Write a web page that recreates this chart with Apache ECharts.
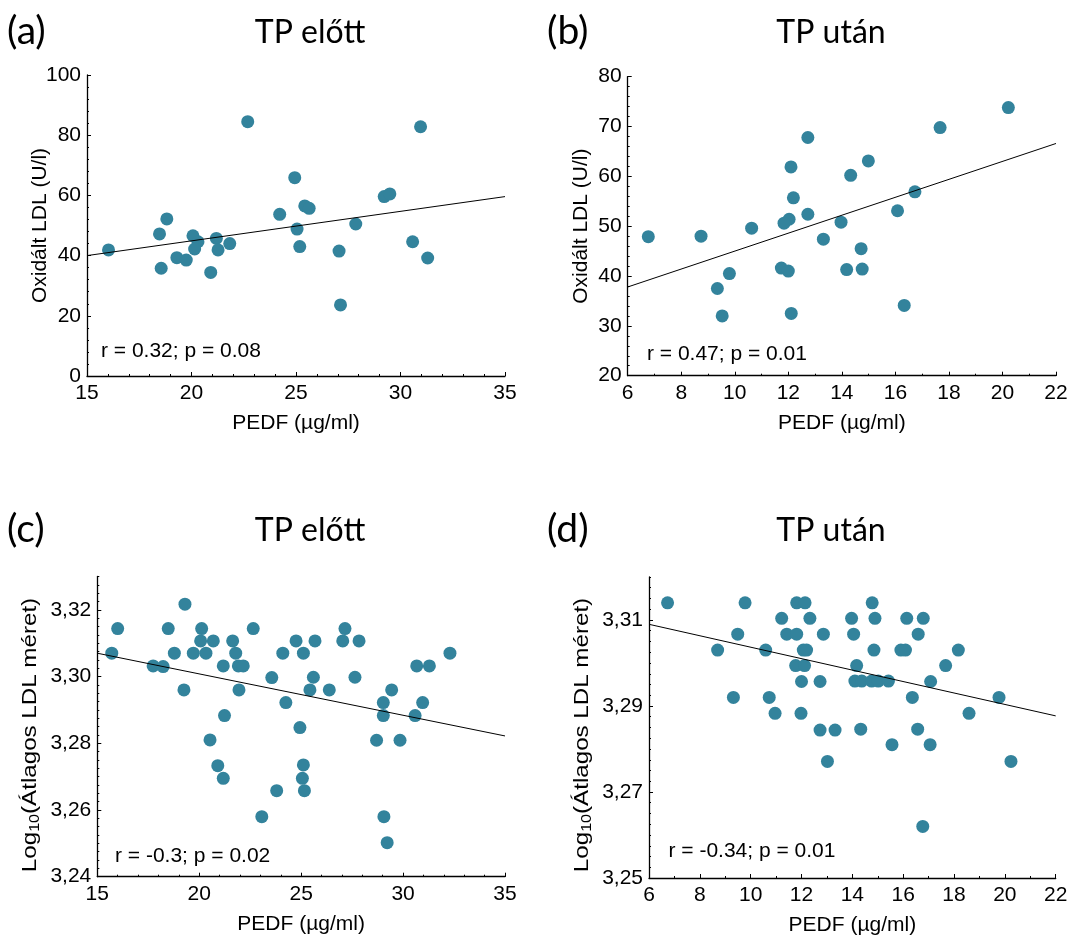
<!DOCTYPE html>
<html>
<head>
<meta charset="utf-8">
<script src="https://cdn.jsdelivr.net/npm/echarts@6/dist/echarts.min.js"></script>
<style>html,body{margin:0;padding:0;background:#fff}#c{width:1073px;height:937px}</style>
</head>
<body>
<div id="c"></div>
<script>
// ---------- data ----------
const aX = [16.03,22.69,24.94,24.22,18.82,18.47,20.07,20.31,20.15,21.19,21.27,21.83,19.30,19.75,18.55,20.92,25.42,25.63,25.05,25.18,27.06,27.13,27.86,29.22,29.49,30.96,30.58,31.30];
const aY = [41.9,84.5,65.9,53.7,52.2,47.2,46.6,44.6,42.2,45.7,41.9,44.0,39.3,38.5,35.8,34.4,56.5,55.7,48.8,43.0,41.5,23.6,50.5,59.6,60.5,82.8,44.6,39.2];
const aFitX = [15, 35];
const aFitY = [40.0, 59.6];

const bX = [6.77,8.74,10.63,9.80,9.35,9.53,12.73,12.10,12.19,12.73,12.03,11.84,13.31,11.74,12.00,12.11,20.22,17.67,14.99,14.33,16.73,16.08,13.97,14.72,14.18,14.76,16.33];
const bY = [47.9,48.0,49.6,40.5,37.5,32.0,67.8,61.9,55.7,52.4,51.4,50.6,47.4,41.6,41.0,32.5,73.8,69.8,63.1,60.2,56.9,53.1,50.8,45.5,41.3,41.4,34.1];
const bFitX = [6, 22];
const bFitY = [37.8, 66.6];

const cX = [15.71,16.00,19.30,18.48,17.74,18.23,18.78,19.25,19.71,20.12,20.07,20.33,20.69,21.18,21.64,21.79,21.92,22.16,21.95,22.65,21.24,20.53,20.91,21.18,23.56,24.10,24.25,23.80,23.07,
            24.75,25.68,25.11,25.60,25.43,26.38,24.94,25.11,25.06,25.16,27.15,27.04,27.84,27.64,29.44,29.03,29.03,28.70,29.85,30.67,31.29,32.30,30.96,30.59,29.06,29.22];
const cY = [3.3070,3.3144,3.3217,3.3144,3.3032,3.3030,3.3070,3.2960,3.3070,3.3144,3.3107,3.3070,3.3107,3.3032,3.3107,3.3070,3.3032,3.3032,3.2960,3.3144,3.2883,3.2810,3.2733,3.2695,3.2997,3.3070,3.2922,3.2658,3.2580,
            3.3107,3.3107,3.3070,3.2998,3.2960,3.2960,3.2847,3.2735,3.2695,3.2658,3.3144,3.3107,3.3107,3.2998,3.2960,3.2922,3.2883,3.2809,3.2809,3.3032,3.3032,3.3070,3.2922,3.2883,3.2580,3.2502];
const cFitX = [15, 35];
const cFitY = [3.3070, 3.2822];

const dX = [6.73,9.78,11.22,12.33,11.81,12.14,9.49,11.42,11.81,12.86,8.70,10.59,12.07,12.20,11.77,12.12,12.00,12.73,9.32,10.73,10.96,11.98,12.73,13.32,13.02,
            14.78,13.97,14.89,16.14,16.79,14.05,16.59,14.85,15.91,16.09,18.17,14.17,17.67,14.10,14.37,14.76,15.02,15.42,17.08,16.36,19.77,18.59,14.33,16.57,15.56,17.06,20.24,16.77];
const dY = [3.3140,3.3140,3.3104,3.3104,3.3140,3.3140,3.3067,3.3067,3.3067,3.3067,3.3030,3.3030,3.3030,3.3030,3.2994,3.2994,3.2957,3.2957,3.2920,3.2920,3.2883,3.2883,3.2844,3.2844,3.2771,
            3.3140,3.3104,3.3104,3.3104,3.3104,3.3067,3.3067,3.3030,3.3030,3.3030,3.3030,3.2994,3.2994,3.2958,3.2958,3.2958,3.2958,3.2958,3.2957,3.2920,3.2920,3.2883,3.2846,3.2846,3.2810,3.2810,3.2771,3.2620];
const dFitX = [6, 22];
const dFitY = [3.3090, 3.2877];

// tick labels
const xTicksAC = [15, 20, 25, 30, 35];
const xTicksBD = [6, 8, 10, 12, 14, 16, 18, 20, 22];
const yTicksA = [0, 20, 40, 60, 80, 100];
const yTicksB = [20, 30, 40, 50, 60, 70, 80];
const yTicksC = [3.24, 3.26, 3.28, 3.30, 3.32];
const yTicksD = [3.25, 3.27, 3.29, 3.31];

const titles = ['TP előtt', 'TP után', 'TP előtt', 'TP után'];
const panelLabels = ['(a)', '(b)', '(c)', '(d)'];
const stats = ['r = 0.32; p = 0.08', 'r = 0.47; p = 0.01', 'r = -0.3; p = 0.02', 'r = -0.34; p = 0.01'];
const xName = 'PEDF (µg/ml)';
const yNameOx = 'Oxidált LDL (U/l)';
const yNameLog = '{n|Log}{s|10}{n|(Átlagos LDL méret)}';

// ---------- styling ----------
const FONT = '"Liberation Sans", Arial, sans-serif';
const TFONT = 'Lato, "Open Sans", sans-serif';
const DOT = '#33839c';

const grids = [
  {left: 87, top: 75, width: 418, height: 301},
  {left: 627.7, top: 76.7, width: 428.3, height: 299},
  {left: 97.3, top: 576.5, width: 407.7, height: 300.2},
  {left: 649, top: 577, width: 406.7, height: 301.3}
];

const comma = v => v.toFixed(2).replace('.', ',');

function axisPair(gi, pos, cfg) {
  const main = {
    type: 'value', gridIndex: gi, position: pos, offset: 0, min: cfg.min, max: cfg.max, interval: cfg.major,
    axisLine: {show: true, onZero: false, lineStyle: {color: '#000', width: 1.3}},
    axisTick: {show: true, inside: true, length: 4, lineStyle: {color: '#000', width: 1}, customValues: cfg.ticks},
    axisLabel: {show: true, color: '#000', fontSize: 21, fontFamily: FONT, margin: cfg.margin, customValues: cfg.ticks,
                formatter: cfg.fmt || (v => String(v)), showMinLabel: true, showMaxLabel: true, hideOverlap: false},
    splitLine: {show: false},
    name: cfg.name || '', nameLocation: 'middle', nameGap: cfg.nameGap || 0, nameMoveOverlap: false,
    nameTextStyle: {color: '#000', fontSize: 21, fontFamily: FONT}
  };
  const minor = {
    type: 'value', gridIndex: gi, position: pos, offset: 0, min: cfg.min, max: cfg.max, interval: cfg.minor,
    axisLine: {show: false, onZero: false},
    axisTick: {show: true, inside: true, length: 2, lineStyle: {color: '#000', width: 1}},
    axisLabel: {show: false},
    splitLine: {show: false}
  };
  return [main, minor];
}

const xAxes = [].concat(
  axisPair(0, 'bottom', {min: 15, max: 35, major: 5, minor: 1, ticks: xTicksAC, name: xName, nameGap: 37, margin: 7}),
  axisPair(1, 'bottom', {min: 6, max: 22, major: 2, minor: 1, ticks: xTicksBD, name: xName, nameGap: 37, margin: 7}),
  axisPair(2, 'bottom', {min: 15, max: 35, major: 5, minor: 1, ticks: xTicksAC, name: xName, nameGap: 37, margin: 7}),
  axisPair(3, 'bottom', {min: 6, max: 22, major: 2, minor: 1, ticks: xTicksBD, name: xName, nameGap: 37, margin: 7})
);
const yAxes = [].concat(
  axisPair(0, 'left', {min: 0, max: 100, major: 20, minor: 4, ticks: yTicksA, name: yNameOx, nameGap: 36, margin: 6}),
  axisPair(1, 'left', {min: 20, max: 80, major: 10, minor: 2, ticks: yTicksB, name: yNameOx, nameGap: 36, margin: 6}),
  axisPair(2, 'left', {min: 3.24, max: 3.33, major: 0.02, minor: 0.0025, ticks: yTicksC, margin: 6, fmt: comma}),
  axisPair(3, 'left', {min: 3.25, max: 3.32, major: 0.02, minor: 0.0025, ticks: yTicksD, margin: 6, fmt: comma})
);

const sets = [[aX, aY, aFitX, aFitY], [bX, bY, bFitX, bFitY], [cX, cY, cFitX, cFitY], [dX, dY, dFitX, dFitY]];
const series = [];
sets.forEach((s, i) => {
  series.push({
    type: 'scatter', xAxisIndex: i * 2, yAxisIndex: i * 2, symbol: 'circle', symbolSize: 13,
    itemStyle: {color: DOT, opacity: 1}, data: s[0].map((x, k) => [x, s[1][k]]), z: 2, silent: true
  });
  series.push({
    type: 'line', xAxisIndex: i * 2, yAxisIndex: i * 2, symbol: 'none', showSymbol: false,
    lineStyle: {color: '#000', width: 1}, data: s[2].map((x, k) => [x, s[3][k]]), z: 3, silent: true
  });
});

const titlePos = [[310, 33], [831, 33], [310, 531], [831, 531]];
const labelPos = [[7, 31], [547, 31], [7, 529], [547, 529]];
const statPos = [[101, 351.5], [647, 354.5], [115, 856], [668.5, 851]];
const graphics = [];
for (let i = 0; i < 4; i++) {
  graphics.push({type: 'text', x: titlePos[i][0], y: titlePos[i][1],
    style: {text: titles[i], fill: '#000', font: '32px ' + TFONT, textAlign: 'center', textVerticalAlign: 'middle'}});
  graphics.push({type: 'text', x: labelPos[i][0], y: labelPos[i][1],
    style: {text: panelLabels[i], fill: '#000', font: '39px ' + TFONT, textAlign: 'left', textVerticalAlign: 'middle'}});
  graphics.push({type: 'text', x: statPos[i][0], y: statPos[i][1],
    style: {text: stats[i], fill: '#000', font: '21px ' + FONT, textAlign: 'left', textVerticalAlign: 'middle'}});
}
// y-axis titles of the lower panels (slightly stretched text, as in the original figure)
const logNamePos = [[30, 735], [582, 735]];
logNamePos.forEach(p => {
  graphics.push({type: 'text', x: p[0], y: p[1], rotation: Math.PI / 2, scaleX: 1.15, scaleY: 1,
    style: {text: yNameLog, fill: '#000', fontSize: 21, fontFamily: FONT, align: 'center', verticalAlign: 'middle',
      rich: {
        n: {fontSize: 21, fontFamily: FONT, fill: '#000', lineHeight: 24, verticalAlign: 'middle'},
        s: {fontSize: 14, fontFamily: FONT, fill: '#000', lineHeight: 14, verticalAlign: 'bottom'}
      }}});
});

const chart = echarts.init(document.getElementById('c'), null, {renderer: 'canvas'});
chart.setOption({
  animation: false,
  backgroundColor: '#fff',
  grid: grids,
  xAxis: xAxes,
  yAxis: yAxes,
  series: series,
  graphic: graphics
});
</script>
</body>
</html>
